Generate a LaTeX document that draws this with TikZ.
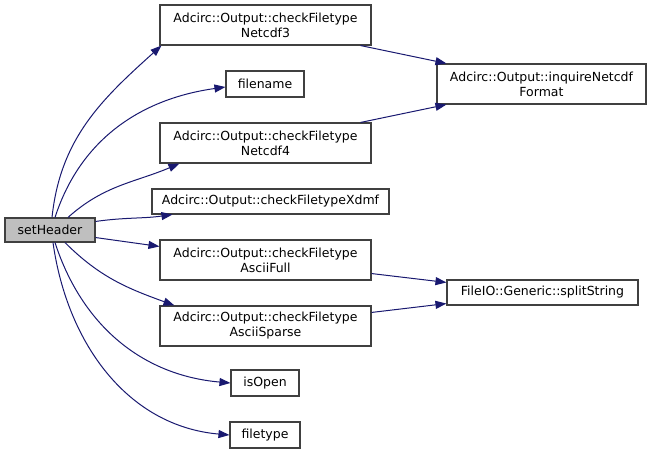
\documentclass[tikz,border=0pt]{standalone}
\usepackage{fontspec}
\setmainfont{DejaVu Sans}
\usetikzlibrary{arrows.meta}
\definecolor{callblue}{HTML}{191970}
\definecolor{boxline}{HTML}{404040}

\begin{document}
\begin{tikzpicture}[x=1pt, y=-1pt,
  every node/.style={font=\fontsize{12.5}{15}\selectfont},
  fnbox/.style={draw=boxline, line width=1.1pt, inner sep=0pt, align=center, minimum height=#1},
  fnbox/.default=40pt,
  callarrow/.style={draw=callblue, line width=1pt, -{Triangle[length=11pt,width=8pt]}}]
\useasboundingbox (0,0) rectangle (653,454);
\node[fnbox=24pt,fill=black!25,minimum width=90pt] (sh) at (50,230) {setHeader};
\node[fnbox,minimum width=211pt] (n3) at (265.5,25) {Adcirc::Output::checkFiletype\\Netcdf3};
\node[fnbox=26pt,minimum width=78pt] (fn) at (265,84) {filename};
\node[fnbox,minimum width=211pt] (n4) at (265.5,143) {Adcirc::Output::checkFiletype\\Netcdf4};
\node[fnbox=25pt,minimum width=237pt] (xd) at (270.5,201.5) {Adcirc::Output::checkFiletypeXdmf};
\node[fnbox,minimum width=211pt] (af) at (265.5,260) {Adcirc::Output::checkFiletype\\AsciiFull};
\node[fnbox,minimum width=211pt] (as) at (265.5,326) {Adcirc::Output::checkFiletype\\AsciiSparse};
\node[fnbox=26pt,minimum width=68pt] (io) at (265,383) {isOpen};
\node[fnbox=26pt,minimum width=70pt] (ft) at (265,435) {filetype};
\node[fnbox,minimum width=209pt] (inq) at (541.5,84) {Adcirc::Output::inquireNetcdf\\Format};
\node[fnbox=25pt,minimum width=191pt] (ss) at (542.5,292.5) {FileIO::Generic::splitString};
% calls from setHeader
\draw[callarrow] ([xshift=2pt]sh.north) to[out=84,in=222] ([xshift=2pt]n3.south west);
\draw[callarrow] ([xshift=5pt]sh.north) to[out=72,in=188] ([yshift=-3pt]fn.west);
\draw[callarrow] ([xshift=18pt]sh.north) to[out=42,in=203] ([xshift=20pt]n4.south west);
\draw[callarrow] ([yshift=-4pt]sh.north east) to[out=8,in=188] ([xshift=21pt]xd.south west);
\draw[callarrow] ([yshift=5pt]sh.south east) -- ([yshift=-7pt]af.north west);
\draw[callarrow] ([xshift=15pt]sh.south) to[out=-45,in=160] ([xshift=15pt]as.north west);
\draw[callarrow] ([xshift=5pt]sh.south) to[out=-72,in=175] (io.west);
\draw[callarrow] ([xshift=3pt]sh.south) to[out=-82,in=175] (ft.west);
% second level
\draw[callarrow] ([xshift=-11pt]n3.south east) -- ([xshift=10pt]inq.north west);
\draw[callarrow] ([xshift=-11pt]n4.north east) -- ([xshift=10pt]inq.south west);
\draw[callarrow] ([yshift=7pt]af.south east) -- ([yshift=-3pt]ss.north west);
\draw[callarrow] ([yshift=-7pt]as.north east) -- ([yshift=2pt]ss.south west);
\end{tikzpicture}
\end{document}
